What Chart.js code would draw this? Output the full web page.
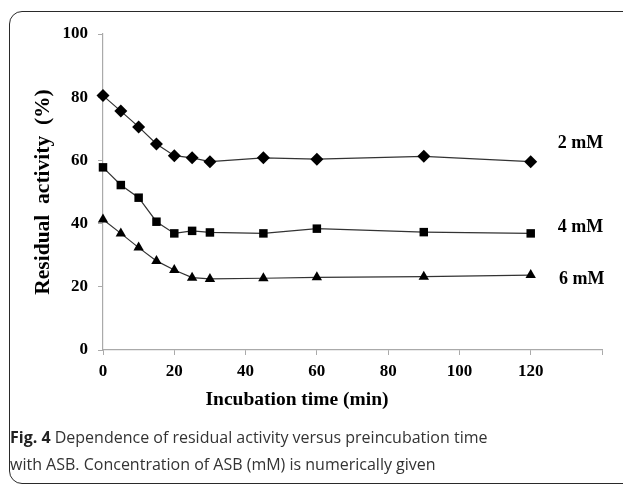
<!DOCTYPE html>
<html>
<head>
<meta charset="utf-8">
<script src="https://cdn.jsdelivr.net/npm/chart.js@4/dist/chart.umd.min.js"></script>
<style>
  html, body { margin: 0; padding: 0; background: #fff; }
  #wrap { position: relative; width: 623px; height: 485px; overflow: hidden; }
  #frame { position: absolute; left: 9px; top: 11px; width: 640px; height: 473px;
           border: 1.6px solid #2a2a2a; border-radius: 13px; box-sizing: border-box; }
  canvas { position: absolute; left: 0; top: 0; }
  #xtitle { position: absolute; left: 297px; top: 388px; transform: translateX(-50%);
            font: bold 19.5px "Liberation Serif", "Times New Roman", serif; color: #000; white-space: pre; }
  #caption { position: absolute; left: 10px; top: 424px; width: 500px;
             font: 16px "Open Sans", sans-serif; line-height: 27px; color: #333; }
  #caption b { font-weight: bold; color: #222; }
</style>
</head>
<body>
<div id="wrap">
  <div id="frame"></div>
  <canvas id="c" width="623" height="485"></canvas>
  <div id="xtitle">Incubation time (min)</div>
  <div id="caption"><b>Fig. 4</b> Dependence of residual activity versus preincubation time with ASB. Concentration of ASB (mM) is numerically given</div>
</div>
<script>
// Data
const times = [0, 5, 10, 15, 20, 25, 30, 45, 60, 90, 120];
const act2mM = [80.5, 75.6, 70.6, 65.2, 61.5, 60.8, 59.6, 60.8, 60.4, 61.3, 59.6];
const act4mM = [57.8, 52.2, 48.2, 40.6, 36.9, 37.7, 37.2, 36.9, 38.4, 37.3, 36.9];
const act6mM = [41.3, 36.9, 32.4, 28.2, 25.3, 22.9, 22.5, 22.7, 23.0, 23.2, 23.7];
const seriesNames = ['2 mM', '4 mM', '6 mM'];
const xTicks = [0, 20, 40, 60, 80, 100, 120];
const yTicks = [0, 20, 40, 60, 80, 100];

const toXY = arr => arr.map((v, i) => ({ x: times[i], y: v }));
const serif = '"Liberation Serif", "Times New Roman", serif';

// series label anchors (data space) placed to the right of the curves
const labelAnchors = [{ x: 134, y: 65.5 }, { x: 134, y: 38.8 }, { x: 134.3, y: 22.5 }];

const seriesLabelPlugin = {
  id: 'seriesLabels',
  afterDatasetsDraw(chart) {
    const { ctx, scales } = chart;
    ctx.save();
    ctx.font = 'bold 18px ' + serif;
    ctx.fillStyle = '#000';
    ctx.textAlign = 'center';
    ctx.textBaseline = 'middle';
    chart.data.datasets.forEach((ds, i) => {
      const a = labelAnchors[i];
      ctx.fillText(ds.label, scales.x.getPixelForValue(a.x), scales.y.getPixelForValue(a.y));
    });
    ctx.restore();
  }
};

const common = {
  borderColor: '#333',
  borderWidth: 1.2,
  pointBackgroundColor: '#000',
  pointBorderColor: '#000',
  pointBorderWidth: 0,
  fill: false,
  tension: 0,
  clip: false
};

new Chart(document.getElementById('c'), {
  type: 'line',
  data: {
    datasets: [
      Object.assign({ label: seriesNames[0], data: toXY(act2mM), pointStyle: 'rectRot', pointRadius: 6.5 }, common),
      Object.assign({ label: seriesNames[1], data: toXY(act4mM), pointStyle: 'rect', pointRadius: 6 }, common),
      Object.assign({ label: seriesNames[2], data: toXY(act6mM), pointStyle: 'triangle', pointRadius: 6 }, common)
    ]
  },
  options: {
    responsive: false,
    animation: false,
    layout: { padding: { top: 34, right: 21, bottom: 105, left: 0 } },
    plugins: { legend: { display: false }, tooltip: { enabled: false } },
    scales: {
      x: {
        type: 'linear',
        min: 0, max: 140,
        afterBuildTicks: s => { s.ticks = xTicks.concat([140]).map(v => ({ value: v })); },
        afterFit: s => { s.height = 30; },
        ticks: {
          callback: v => (xTicks.includes(v) ? String(v) : ''),
          font: { family: serif, size: 17, weight: 'bold' },
          color: '#000',
          padding: 6,
          maxRotation: 0
        },
        grid: { drawOnChartArea: false, tickLength: 5, color: '#aaa', lineWidth: 1 },
        border: { color: '#aaa', width: 1.2 }
      },
      y: {
        type: 'linear',
        min: 0, max: 100,
        afterBuildTicks: s => { s.ticks = yTicks.map(v => ({ value: v })); },
        afterFit: s => { s.width = 103; },
        ticks: {
          font: { family: serif, size: 17, weight: 'bold' },
          color: '#000',
          padding: 10
        },
        grid: { drawOnChartArea: false, tickLength: 5, color: '#aaa', lineWidth: 1 },
        border: { color: '#aaa', width: 1.2 },
        title: {
          display: true,
          text: 'Residual  activity  (%)',
          font: { family: serif, size: 21.5, weight: 'bold' },
          color: '#000',
          padding: { top: 31, bottom: 0 }
        }
      }
    }
  },
  plugins: [seriesLabelPlugin]
});
</script>
</body>
</html>
